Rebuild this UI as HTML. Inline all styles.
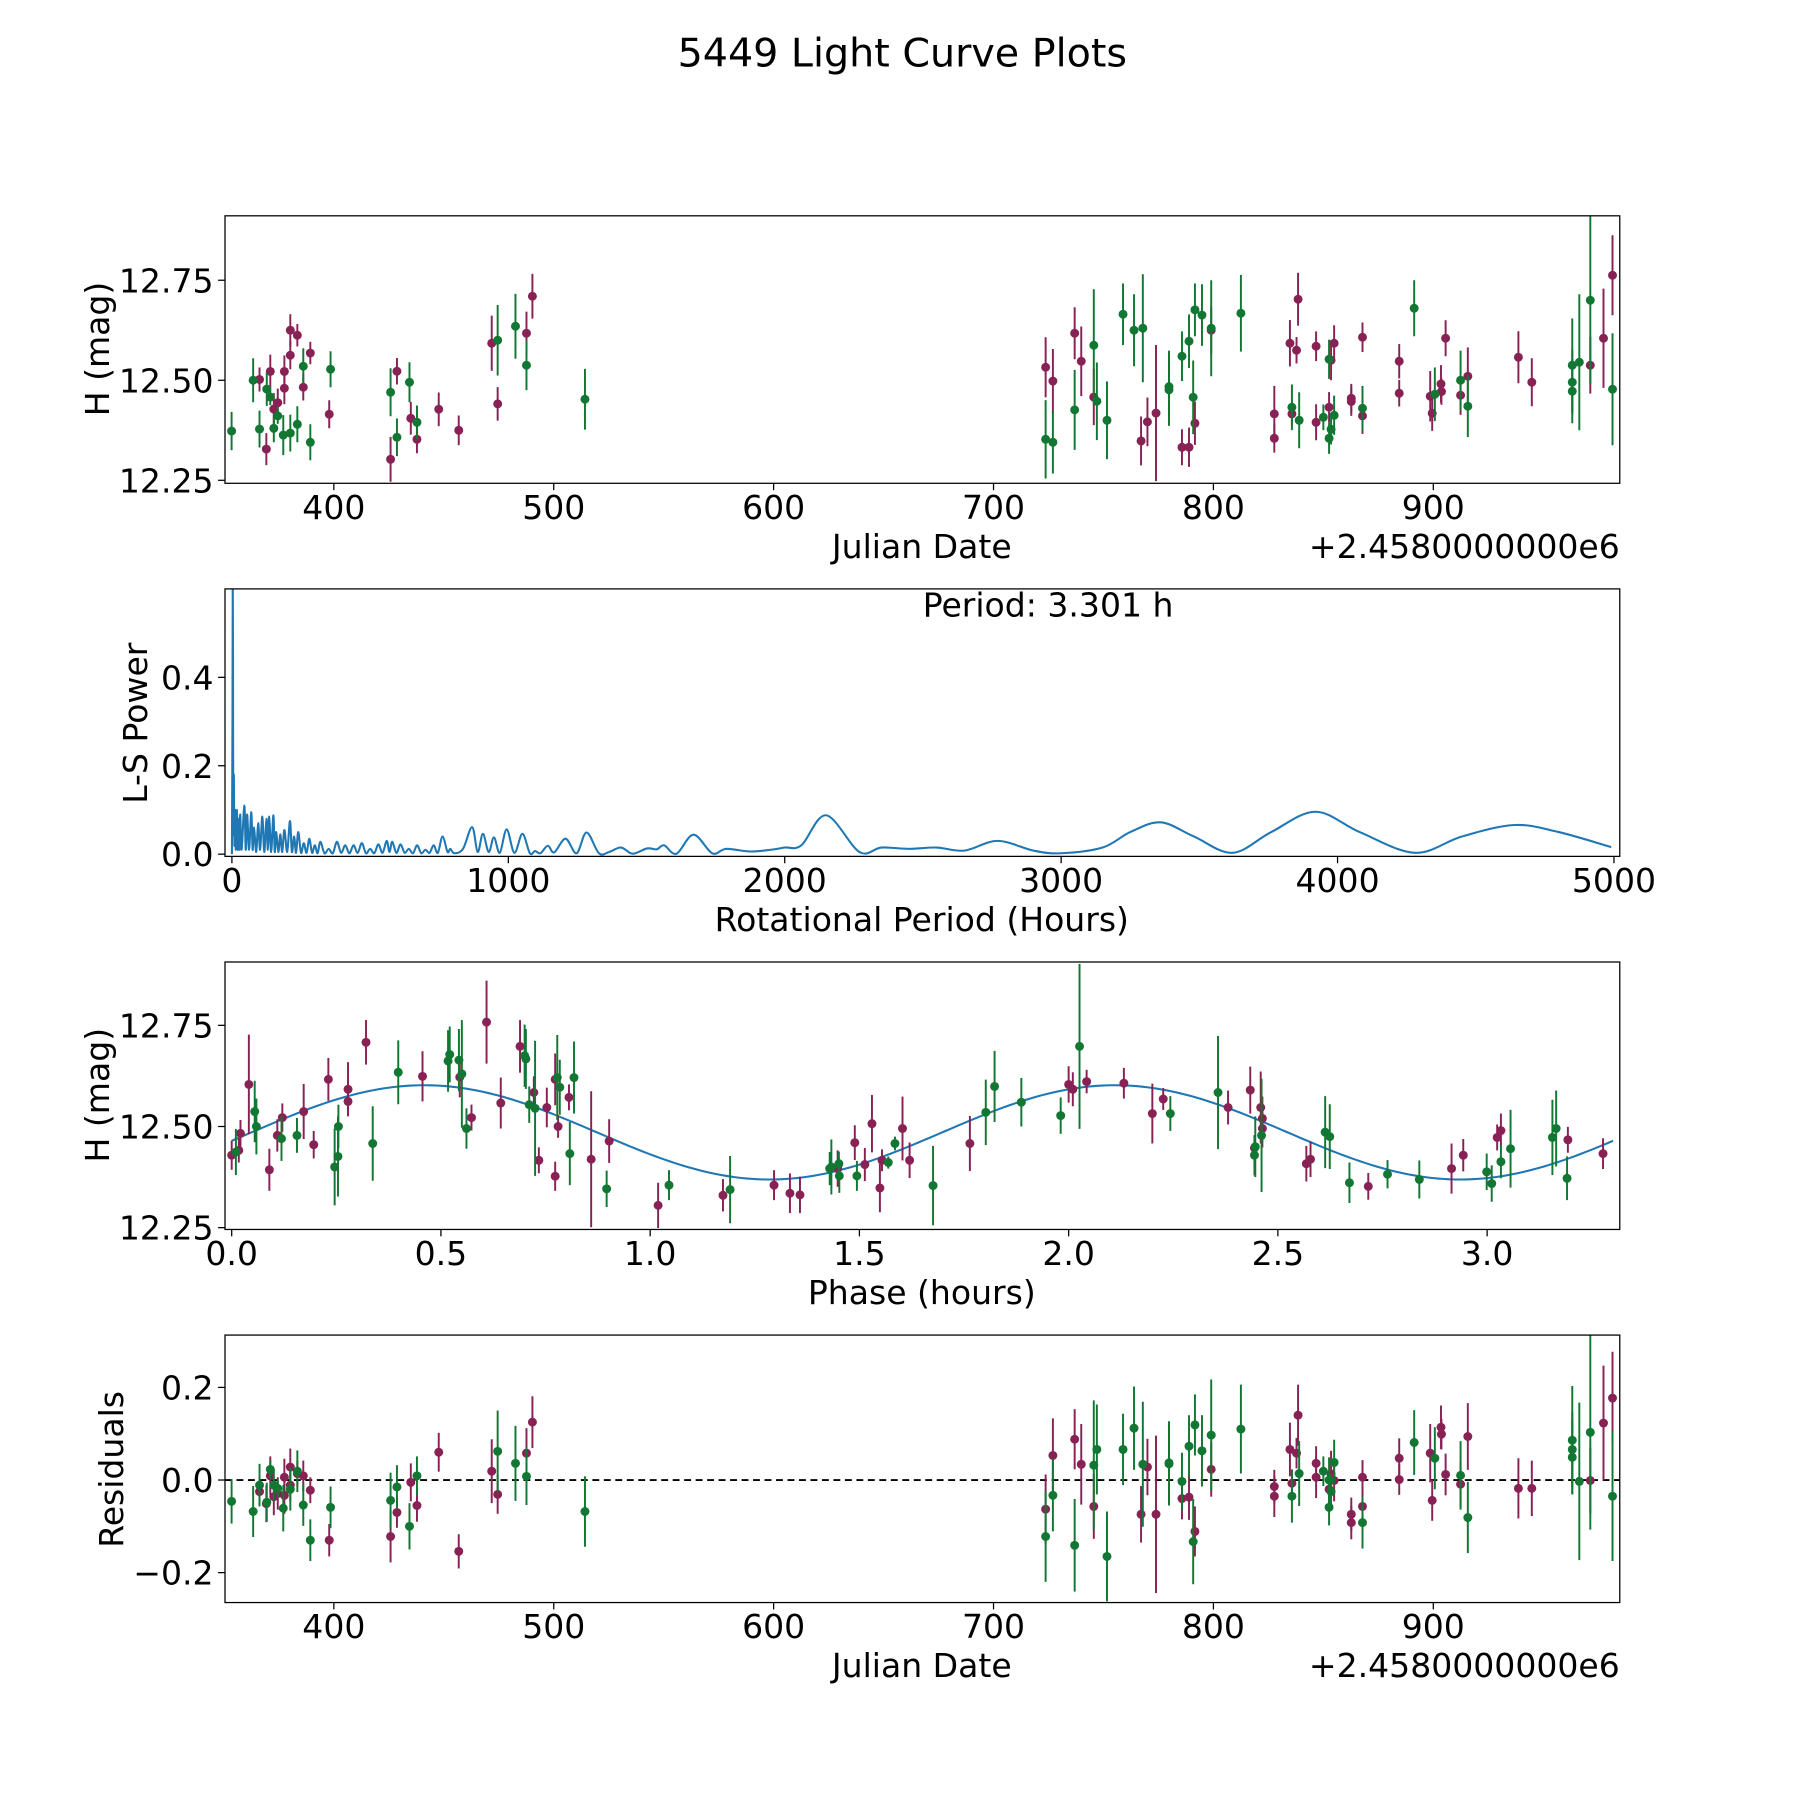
<!DOCTYPE html>
<html><head><meta charset="utf-8"><style>
html,body{margin:0;padding:0;background:#fff;}
svg{display:block;font-family:"DejaVu Sans","Liberation Sans",sans-serif;}
</style></head><body>
<svg id="fig" width="1800" height="1800" viewBox="0 0 1568 1568" xmlns="http://www.w3.org/2000/svg">
<rect width="1568" height="1568" fill="#fff"/>
<text x="786" y="58" font-size="34.5" text-anchor="middle">5449 Light Curve Plots</text>
</svg>
<script>
// ---- Light curve data (Julian Date offset, H mag, error) ----
const jdM=[366.2,369.3,371.1,372.7,374.5,377.5,377.5,380.2,380.2,383.4,386.1,389.3,397.9,425.8,428.7,435,437.8,447.7,456.8,471.8,474.5,487.6,490.3,723.7,727,736.9,739.9,745.6,767.1,770,773.9,785.7,788.9,791.6,799,827.7,827.7,834.8,835.7,837.8,838.5,846.7,846.7,853.5,852.6,854.9,862.7,862.7,867.8,867.8,884.5,884.5,898.6,899.5,903.5,903.7,905.6,912.4,915.7,938.7,944.8,971.4,977.4,981.5];
const hM=[12.502,12.328,12.522,12.428,12.444,12.522,12.48,12.625,12.5625,12.6125,12.4825,12.568,12.415,12.3025,12.5225,12.405,12.3525,12.4275,12.375,12.5925,12.441,12.6175,12.71,12.5325,12.498,12.6175,12.5475,12.458,12.3483,12.396,12.418,12.3325,12.3325,12.3925,12.625,12.416,12.355,12.5925,12.416,12.575,12.7025,12.585,12.395,12.55,12.4325,12.5925,12.455,12.447,12.411,12.6075,12.5475,12.4675,12.46,12.4175,12.4908,12.4717,12.605,12.4625,12.51,12.5575,12.495,12.5375,12.605,12.7625];
const errM=[.03,.04,.042,.04,.035,.04,.04,.04,.035,.028,.033,.028,.035,.056,.033,.041,.035,.042,.037,.069,.042,.054,.056,.075,.08,.065,.087,.07,.061,.061,.17,.045,.049,.054,.059,.07,.036,.058,.03,.033,.066,.037,.045,.05,.038,.045,.036,.036,.045,.037,.043,.033,.063,.044,.047,.033,.045,.049,.072,.065,.06,.071,.124,.10];
const jdG=[353.5,363.3,366.2,369.5,371.1,374.5,372.7,377,380.2,383.4,386.1,389.3,398.5,425.8,428.7,434.4,437.8,474.5,482.6,487.6,514.2,723.7,727,736.9,745.6,747,751.6,758.9,763.9,767.9,779.8,779.8,785.7,788.9,790.8,791.6,794.8,799,812.5,835.7,839,850,852.6,852.6,853.5,854.9,867.8,891.3,900.7,912.4,915.7,963.2,963.2,963.2,966.4,971.4,981.5];
const hG=[12.373,12.50,12.378,12.478,12.458,12.411,12.38,12.363,12.368,12.39,12.535,12.345,12.5275,12.47,12.3575,12.495,12.395,12.60,12.635,12.5375,12.4525,12.3525,12.345,12.426,12.5875,12.4475,12.40,12.665,12.625,12.63,12.484,12.476,12.56,12.5975,12.4575,12.676,12.663,12.63,12.6675,12.4325,12.40,12.4075,12.5525,12.355,12.3775,12.4125,12.43,12.68,12.465,12.50,12.435,12.5375,12.495,12.4725,12.545,12.70,12.4775];
const errG=[.048,.055,.046,.042,.02,.02,.035,.05,.046,.045,.045,.045,.045,.06,.047,.05,.042,.088,.081,.062,.076,.098,.078,.1,.14,.097,.097,.077,.09,.135,.09,.09,.062,.067,.092,.066,.077,.12,.096,.057,.07,.032,.049,.039,.038,.049,.056,.07,.067,.074,.077,.117,.08,.08,.17,.21,.14];

// ---- Periodogram ----
const periodHours=[0,2,3,4,5,7,9,12,14,18,21,25,27,30,35,45,50,55,62,70,75,80,88,95,102,110,117,125,130,135,142,150,155,160,168,175,182,190,200,210,217,225,232,240,250,260,270,280,290,300,310,320,335,350,365,380,395,410,425,440,455,470,485,500,515,530,545,560,570,580,595,610,625,640,655,670,685,700,715,730,745,762,780,790,805,836,869,889,908,929,948,969,994,1022,1051,1078,1097,1116,1143,1166,1207,1247,1283,1328,1365,1408,1450,1502,1537,1564,1608,1670,1738,1788,1875,1950,2000,2060,2150,2270,2350,2450,2550,2650,2770,2900,3000,3150,3250,3360,3480,3620,3760,3920,4080,4280,4450,4640,4800,4990];
const lsPower=[0,0.3,0.62,0.45,0.05,0.18,0.02,0.1,0.01,0.1,0.01,0.08,0.01,0.09,0.01,0.11,0.01,0.09,0.01,0.095,0.01,0.06,0.005,0.07,0.01,0.085,0.005,0.08,0.01,0.085,0.005,0.088,0.005,0.05,0.005,0.045,0.005,0.055,0.005,0.075,0.005,0.04,0.003,0.05,0.003,0.025,0.003,0.035,0.003,0.02,0.002,0.028,0.002,0.012,0.002,0.028,0.003,0.02,0.002,0.02,0.003,0.025,0.002,0.012,0.002,0.022,0.003,0.03,0.005,0.028,0.003,0.022,0.003,0.012,0.002,0.02,0.002,0.01,0.003,0.02,0.003,0.04,0.005,0.012,0.002,0.012,0.061,0.005,0.046,0.005,0.038,0.003,0.056,0.003,0.046,0.002,0.007,0.002,0.019,0.004,0.035,0.002,0.049,0.002,0.005,0.015,0.001,0.013,0.011,0.02,0.001,0.044,0.002,0.012,0.006,0.01,0.015,0.02,0.088,0.005,0.015,0.012,0.015,0.008,0.03,0.008,0.002,0.015,0.05,0.072,0.04,0.003,0.05,0.096,0.05,0.003,0.04,0.066,0.05,0.016];
const bestPeriodText="Period: 3.301 h";

// ---- Phased data ----
const phM=[0.0,0.017,0.021,0.041,0.09,0.109,0.121,0.172,0.196,0.231,0.278,0.278,0.321,0.456,0.545,0.573,0.609,0.643,0.689,0.722,0.734,0.753,0.773,0.78,0.773,0.806,0.859,0.902,1.019,1.174,1.296,1.334,1.358,1.448,1.489,1.513,1.53,1.549,1.554,1.603,1.62,1.764,2.0,2.01,2.043,2.132,2.2,2.226,2.381,2.434,2.444,2.459,2.463,2.463,2.568,2.578,2.716,2.915,2.943,3.024,3.033,3.193,3.277];
const phHM=[12.429,12.441,12.483,12.604,12.393,12.478,12.522,12.537,12.455,12.6165,12.592,12.562,12.708,12.624,12.622,12.522,12.758,12.558,12.698,12.584,12.4165,12.547,12.6165,12.50,12.377,12.572,12.419,12.464,12.305,12.33,12.355,12.335,12.331,12.396,12.46,12.406,12.507,12.348,12.4165,12.495,12.4165,12.458,12.604,12.592,12.611,12.607,12.532,12.568,12.547,12.59,12.447,12.547,12.52,12.495,12.408,12.419,12.352,12.396,12.429,12.473,12.49,12.467,12.433];
const phErrM=[.036,.03,.033,.123,.052,.04,.035,.068,.034,.053,.067,.035,.055,.062,.05,.032,.1025,.063,.065,.04,.032,.049,.064,.028,.036,.032,.168,.054,.056,.04,.037,.049,.045,.045,.043,.041,.071,.06,.027,.079,.044,.068,.045,.042,.029,.038,.074,.027,.042,.058,.03,.089,.054,.047,.044,.044,.033,.062,.04,.032,.042,.032,.038];
const phG=[0.01,0.055,0.059,0.119,0.156,0.246,0.254,0.255,0.337,0.398,0.517,0.521,0.543,0.55,0.561,0.70,0.703,0.711,0.725,0.778,0.784,0.808,0.818,0.896,1.045,1.191,1.429,1.433,1.451,1.452,1.494,1.569,1.585,1.676,1.802,1.823,1.887,1.981,2.026,2.243,2.357,2.446,2.444,2.461,2.613,2.624,2.671,2.762,2.838,2.999,3.011,3.033,3.056,3.156,3.165,3.191];
const phHG=[12.437,12.537,12.50,12.47,12.478,12.40,12.426,12.50,12.458,12.634,12.662,12.678,12.664,12.63,12.495,12.675,12.667,12.554,12.545,12.621,12.597,12.433,12.621,12.346,12.355,12.344,12.396,12.40,12.408,12.378,12.378,12.411,12.458,12.354,12.535,12.599,12.56,12.527,12.698,12.532,12.584,12.45,12.429,12.478,12.486,12.475,12.361,12.382,12.369,12.388,12.359,12.413,12.445,12.473,12.495,12.372];
const phErrG=[.057,.076,.069,.055,.043,.095,.099,.054,.092,.079,.076,.069,.077,.133,.05,.077,.074,.045,.167,.105,.068,.078,.089,.045,.037,.083,.041,.068,.03,.042,.037,.015,.017,.098,.081,.088,.06,.045,.204,.043,.14,.075,.05,.14,.089,.08,.05,.035,.047,.045,.045,.041,.096,.093,.094,.054];
const modelMean=12.4855, modelAmp=0.1165, modelPeriod=1.6505, modelPeakPhase=0.46, foldPeriod=3.301;

// ---- Residuals ----
const resJdM=[366.2,369.3,371.1,372.7,374.5,377.5,377.5,380.2,380.2,383.4,386.1,389.3,397.9,425.8,428.7,435,437.8,447.7,456.8,471.8,474.5,487.6,490.3,723.7,727,736.9,739.9,745.6,767.1,770,773.9,785.7,788.9,791.6,799,827.7,827.7,834.8,835.7,837.8,838.5,846.7,846.7,853.5,852.6,854.9,862.7,862.7,867.8,867.8,884.5,884.5,898.6,899.5,903.5,903.7,905.6,912.4,915.7,938.7,944.8,971.4,977.4,981.5];
const resM=[-.025,-.051,.009,-.036,-.029,.006,-.033,.028,-.011,.014,.009,-.022,-.13,-.122,-.07,-.005,-.055,.06,-.154,.019,-.031,.058,.125,-.063,.053,.088,.034,-.057,-.074,.028,-.074,-.04,-.037,-.111,.023,-.014,-.035,.066,-.007,.058,.14,.036,.006,.013,-.02,-.001,-.074,-.092,-.057,.006,.047,.001,.058,-.044,.114,.099,.012,-.009,.094,-.018,-.018,-.001,.123,.177];
const resErrM=[.03,.04,.042,.04,.035,.04,.04,.04,.035,.028,.033,.028,.035,.056,.033,.041,.035,.042,.037,.069,.042,.054,.056,.075,.08,.065,.087,.07,.061,.061,.17,.045,.049,.054,.059,.036,.045,.058,.03,.033,.066,.037,.045,.05,.038,.045,.036,.036,.045,.037,.043,.033,.063,.044,.047,.033,.045,.049,.072,.065,.06,.071,.124,.10];
const resJdG=[353.5,363.3,366.2,369.5,371.1,372.7,374.5,377,380.2,383.4,386.1,389.3,398.5,425.8,428.7,434.4,437.8,474.5,482.6,487.6,514.2,723.7,727,736.9,745.6,747,751.6,758.9,763.9,767.9,779.8,779.8,785.7,788.9,790.8,791.6,794.8,799,812.5,835.7,839,850,852.6,852.6,853.5,854.9,867.8,891.3,900.7,912.4,915.7,963.2,963.2,963.2,966.4,971.4,981.5];
const resG=[-.046,-.068,-.011,-.048,.023,-.011,-.018,-.061,-.02,.019,-.054,-.13,-.059,-.044,-.015,-.1,.009,.062,.036,.008,-.068,-.122,-.033,-.141,.032,.066,-.165,.066,.112,.034,.037,.035,-.003,.073,-.133,.119,.063,.097,.11,-.035,.014,.019,0,-.059,-.025,.038,-.092,.081,.047,.01,-.081,.086,.066,.049,-.003,.103,-.035];
const resErrG=[.048,.055,.046,.042,.02,.035,.02,.05,.046,.045,.045,.045,.045,.06,.047,.05,.042,.088,.081,.062,.076,.098,.078,.1,.14,.097,.097,.077,.09,.135,.09,.09,.062,.067,.092,.066,.077,.12,.096,.057,.07,.032,.049,.039,.038,.049,.056,.07,.067,.074,.077,.117,.08,.08,.17,.21,.14];

const NS="http://www.w3.org/2000/svg";
const svg=document.getElementById('fig');
const MAG="#882255", GRN="#117733", BLUE="#1f77b4";
const FS=28.8;
function mk(tag,attrs,parent){const e=document.createElementNS(NS,tag);for(const k in attrs)e.setAttribute(k,attrs[k]);(parent||svg).appendChild(e);return e;}
function lin(d0,d1,r0,r1){return v=>r0+(v-d0)/(d1-d0)*(r1-r0);}

function makeAxes(name,y0,y1,xlim,ylim){
  const g=mk('g',{});
  
  
  const X=lin(xlim[0],xlim[1],196,1411), Y=lin(ylim[0],ylim[1],y1,y0);
  const cid='clip-'+name;
  const cp=mk('clipPath',{id:cid},g); mk('rect',{x:196,y:y0,width:1215,height:y1-y0},cp);
  const plot=mk('g',{'clip-path':'url(#'+cid+')'},g);
  return {g,plot,X,Y,y0,y1};
}
function frame(ax){
  const r=mk('rect',{x:196,y:ax.y0,width:1215,height:ax.y1-ax.y0,fill:'none',stroke:'#000','stroke-width':1.1},ax.g);
  
  
}
function xticks(ax,vals,labels,base){
  vals.forEach((v,i)=>{const x=ax.X(v);
    mk('line',{x1:x,x2:x,y1:ax.y1,y2:ax.y1+6,stroke:'#000','stroke-width':1.1},ax.g);
    const t=mk('text',{x:x,y:base,'font-size':FS,'text-anchor':'middle'},ax.g);t.textContent=labels[i];
    
    });
}
function yticks(ax,vals,labels){
  vals.forEach((v,i)=>{const y=ax.Y(v);
    mk('line',{x1:190,x2:196,y1:y,y2:y,stroke:'#000','stroke-width':1.1},ax.g);
    const t=mk('text',{x:186,y:y+10.5,'font-size':FS,'text-anchor':'end'},ax.g);t.textContent=labels[i];
    
    });
}
function label(ax,txt,x,y,rot,name,anchor){
  const t=mk('text',{x:x,y:y,'font-size':FS,'text-anchor':anchor||'middle'},ax.g);
  if(rot)t.setAttribute('transform','rotate(-90 '+x+' '+y+')');
  t.textContent=txt;
  
  
}
function errPoints(ax,xs,ys,es,color,name){
  const g=mk('g',{},ax.plot);
  
  
  xs.forEach((xv,i)=>{const x=ax.X(xv);
    mk('line',{x1:x,x2:x,y1:ax.Y(ys[i]-es[i]),y2:ax.Y(ys[i]+es[i]),stroke:color,'stroke-width':1.7},g);});
  xs.forEach((xv,i)=>{
    const c=mk('circle',{cx:ax.X(xv),cy:ax.Y(ys[i]),r:3.9,fill:color},g);
    
    });
}
function catmull(pts){
  let d='M'+pts[0][0]+' '+pts[0][1];
  for(let i=0;i<pts.length-1;i++){
    const p0=pts[Math.max(0,i-1)],p1=pts[i],p2=pts[i+1],p3=pts[Math.min(pts.length-1,i+2)];
    const c1=[p1[0]+(p2[0]-p0[0])/6,p1[1]+(p2[1]-p0[1])/6],c2=[p2[0]-(p3[0]-p1[0])/6,p2[1]-(p3[1]-p1[1])/6];
    d+=' C'+c1[0].toFixed(2)+' '+c1[1].toFixed(2)+' '+c2[0].toFixed(2)+' '+c2[1].toFixed(2)+' '+p2[0].toFixed(2)+' '+p2[1].toFixed(2);
  }
  return d;
}

// ---------- Axes 1: light curve ----------
const ax1=makeAxes('light-curve-axes',188,421,[350.5,984.8],[12.2425,12.911]);
errPoints(ax1,jdM,hM,errM,MAG,'magenta-series');
errPoints(ax1,jdG,hG,errG,GRN,'green-series');
frame(ax1);
xticks(ax1,[400,500,600,700,800,900],['400','500','600','700','800','900'],452);
yticks(ax1,[12.25,12.5,12.75],['12.25','12.50','12.75']);
label(ax1,'Julian Date',803,486,false,'x-axis-title');
label(ax1,'+2.4580000000e6',1411,486,false,'x-offset-text','end');
label(ax1,'H (mag)',95,304,true,'y-axis-title');

// ---------- Axes 2: periodogram ----------
const ax2=makeAxes('periodogram-axes',513,746,[-25,5021],[-0.005,0.6]);
const pp=periodHours.map((h,i)=>[ax2.X(h),ax2.Y(lsPower[i])]);
const pl=mk('path',{d:catmull(pp),fill:'none',stroke:BLUE,'stroke-width':1.8,'stroke-linejoin':'round'},ax2.plot);


frame(ax2);
xticks(ax2,[0,1000,2000,3000,4000,5000],['0','1000','2000','3000','4000','5000'],777);
yticks(ax2,[0,0.2,0.4],['0.0','0.2','0.4']);
label(ax2,'Rotational Period (Hours)',803,811,false,'x-axis-title');
label(ax2,'L-S Power',128,630,true,'y-axis-title');
label(ax2,bestPeriodText,913,537,false,'period-annotation');

// ---------- Axes 3: phased ----------
const ax3=makeAxes('phase-axes',838,1071,[-0.016,3.317],[12.2455,12.9066]);
const mp=[];for(let i=0;i<=300;i++){const p=foldPeriod*i/300;mp.push([ax3.X(p),ax3.Y(modelMean+modelAmp*Math.cos(2*Math.PI*(p-modelPeakPhase)/modelPeriod))]);}
const ml=mk('path',{d:'M'+mp.map(q=>q[0].toFixed(2)+' '+q[1].toFixed(2)).join(' L'),fill:'none',stroke:BLUE,'stroke-width':1.8},ax3.plot);


errPoints(ax3,phM,phHM,phErrM,MAG,'magenta-phased-series');
errPoints(ax3,phG,phHG,phErrG,GRN,'green-phased-series');
frame(ax3);
xticks(ax3,[0,0.5,1,1.5,2,2.5,3],['0.0','0.5','1.0','1.5','2.0','2.5','3.0'],1102);
yticks(ax3,[12.25,12.5,12.75],['12.25','12.50','12.75']);
label(ax3,'Phase (hours)',803,1136,false,'x-axis-title');
label(ax3,'H (mag)',95,954,true,'y-axis-title');

// ---------- Axes 4: residuals ----------
const ax4=makeAxes('residuals-axes',1163,1396,[350.5,984.8],[-0.2646,0.313]);
const zl=mk('line',{x1:196,x2:1411,y1:ax4.Y(0),y2:ax4.Y(0),stroke:'#000','stroke-width':1.6,'stroke-dasharray':'6,4'},ax4.plot);


errPoints(ax4,resJdM,resM,resErrM,MAG,'magenta-residuals');
errPoints(ax4,resJdG,resG,resErrG,GRN,'green-residuals');
frame(ax4);
xticks(ax4,[400,500,600,700,800,900],['400','500','600','700','800','900'],1427);
yticks(ax4,[-0.2,0,0.2],['\u22120.2','0.0','0.2']);
label(ax4,'Julian Date',803,1461,false,'x-axis-title');
label(ax4,'+2.4580000000e6',1411,1461,false,'x-offset-text','end');
label(ax4,'Residuals',107,1280,true,'y-axis-title');
</script>
</body></html>
